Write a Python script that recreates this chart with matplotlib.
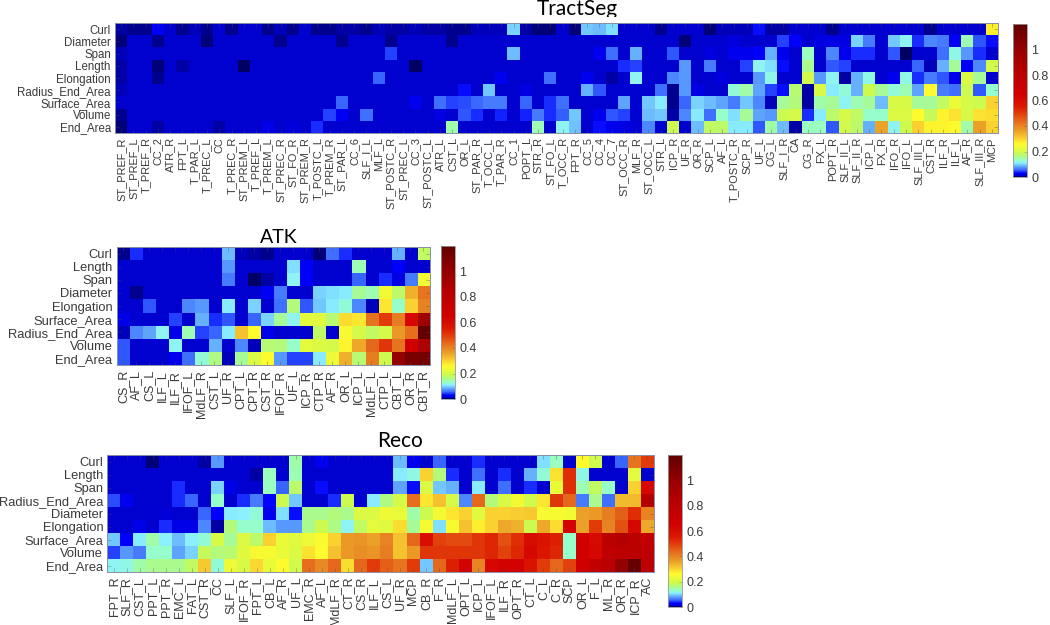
import numpy as np
import matplotlib
matplotlib.use('Agg')
import matplotlib.pyplot as plt
from matplotlib.colors import LinearSegmentedColormap
from matplotlib.transforms import Bbox

plt.rcParams['font.family'] = ['Liberation Sans', 'DejaVu Sans']

ts_tracts = ['ST_PREF_R', 'ST_PREF_L', 'T_PREF_R', 'CC_2', 'ATR_R', 'FPT_L', 'T_PAR_L', 'T_PREC_L', 'CC',
             'T_PREC_R', 'ST_PREM_L', 'T_PREF_L', 'T_PREM_L', 'ST_PREC_R', 'ST_FO_R', 'ST_PREM_R', 'T_POSTC_L',
             'T_PREM_R', 'ST_PAR_L', 'CC_6', 'SLF_I_L', 'MLF_L', 'ST_POSTC_R', 'ST_PREC_L', 'CC_3', 'ST_POSTC_L',
             'ATR_L', 'CST_L', 'OR_L', 'ST_PAR_R', 'T_OCC_L', 'T_PAR_R', 'CC_1', 'POPT_L', 'STR_R', 'ST_FO_L',
             'T_OCC_R', 'FPT_R', 'CC_5', 'CC_4', 'CC_7', 'ST_OCC_R', 'MLF_R', 'ST_OCC_L', 'STR_L', 'ICP_R', 'UF_R',
             'OR_R', 'SCP_L', 'AF_L', 'T_POSTC_R', 'SCP_R', 'UF_L', 'CG_L', 'SLF_I_R', 'CA', 'CG_R', 'FX_L',
             'POPT_R', 'SLF_II_L', 'SLF_II_R', 'ICP_L', 'FX_R', 'IFO_R', 'IFO_L', 'SLF_III_L', 'CST_R', 'ILF_R',
             'ILF_L', 'AF_R', 'SLF_III_R', 'MCP']
ts_features = ['Curl', 'Diameter', 'Span', 'Length', 'Elongation', 'Radius_End_Area', 'Surface_Area', 'Volume', 'End_Area']

ts_curl = [8, 5, 5, 28, 12, 5, 10, 5, 12, 5, 12, 12, 6, 10, 5, 12, 7, 7, 9, 9, 5, 10, 9, 9, 10, 9, 8, 5, 6, 10, 10, 10,
           100, 9, 4, 4, 12, 4, 95, 90, 105, 12, 12, 12, 5, 12, 12, 12, 4, 10, 10, 10, 35, 8, 8, 12, 12, 12, 5, 12,
           12, 12, 12, 12, 12, 12, 5, 12, 12, 12, 12, 270]
ts_diameter = [3, 12, 12, 6, 12, 12, 12, 4, 12, 12, 12, 12, 12, 6, 12, 12, 12, 12, 6, 12, 12, 12, 5, 12, 12, 12, 12, 5,
               12, 12, 12, 12, 12, 12, 12, 12, 12, 12, 12, 12, 12, 12, 12, 12, 12, 12, 4, 12, 12, 12, 18, 14, 14, 12,
               45, 30, 12, 20, 20, 20, 100, 65, 12, 95, 115, 40, 70, 65, 28, 140, 50, 35]
ts_span = [10, 12, 12, 12, 12, 12, 12, 12, 12, 12, 12, 12, 12, 12, 12, 12, 12, 12, 12, 12, 12, 12, 45, 12, 12, 12, 12,
           12, 12, 12, 12, 12, 90, 12, 12, 12, 12, 12, 12, 25, 60, 12, 85, 12, 12, 50, 14, 14, 18, 12, 25, 25, 30, 85,
           25, 12, 135, 12, 70, 25, 40, 40, 12, 50, 0, 12, 12, 60, 120, 75, 40, 14]
ts_length = [8, 12, 12, 4, 12, 9, 12, 12, 12, 12, 0, 12, 12, 12, 12, 12, 12, 12, 12, 12, 12, 12, 12, 12, 2, 12, 12, 12,
             12, 12, 12, 12, 12, 12, 12, 12, 12, 12, 12, 12, 12, 40, 45, 12, 12, 12, 75, 12, 65, 12, 12, 45, 115, 105,
             35, 12, 155, 12, 50, 45, 12, 12, 12, 12, 12, 55, 10, 85, 150, 30, 70, 195]
ts_elongation = [9, 12, 12, 6, 12, 12, 12, 12, 12, 12, 12, 12, 12, 12, 12, 12, 12, 12, 12, 12, 12, 55, 12, 12, 12, 12,
                 12, 12, 12, 12, 12, 25, 12, 12, 12, 60, 12, 12, 25, 12, 8, 12, 115, 12, 12, 70, 75, 12, 12, 18, 12,
                 12, 75, 120, 12, 12, 195, 75, 115, 8, 85, 120, 12, 25, 120, 40, 65, 50, 25, 210, 150, 12]
ts_radius = [10, 12, 12, 12, 12, 12, 12, 12, 12, 12, 12, 12, 12, 12, 12, 12, 12, 12, 12, 12, 12, 12, 12, 12, 12, 12, 12,
             12, 35, 12, 95, 12, 12, 20, 12, 12, 12, 12, 85, 50, 12, 12, 12, 12, 60, 6, 75, 20, 12, 12, 125, 145, 80,
             45, 35, 170, 8, 205, 110, 125, 85, 190, 150, 125, 140, 80, 260, 65, 60, 190, 50, 130]
ts_surface = [12, 12, 12, 12, 12, 12, 12, 12, 12, 12, 12, 12, 12, 12, 12, 12, 12, 12, 55, 12, 12, 12, 12, 12, 25, 12,
              60, 45, 48, 58, 65, 65, 12, 55, 12, 40, 60, 12, 12, 12, 12, 80, 12, 95, 110, 6, 55, 100, 90, 80, 65, 95,
              70, 10, 150, 165, 8, 145, 150, 115, 140, 150, 90, 205, 205, 150, 150, 180, 230, 200, 190, 300]
ts_volume = [7, 12, 12, 12, 12, 12, 12, 12, 12, 12, 12, 12, 12, 12, 12, 12, 12, 45, 28, 12, 60, 12, 12, 12, 12, 12, 20,
             12, 50, 42, 12, 38, 12, 38, 65, 42, 52, 95, 12, 25, 50, 45, 12, 90, 95, 8, 70, 110, 60, 130, 105, 150,
             80, 75, 190, 200, 40, 110, 175, 200, 180, 130, 130, 210, 210, 260, 185, 265, 285, 205, 285, 290]
ts_end = [4, 12, 12, 8, 12, 12, 12, 12, 8, 12, 12, 12, 22, 12, 18, 12, 40, 12, 12, 12, 12, 12, 12, 12, 12, 12, 12, 145,
          12, 12, 12, 12, 12, 12, 140, 12, 115, 92, 12, 35, 25, 20, 16, 70, 12, 190, 12, 90, 180, 175, 110, 110, 50,
          145, 90, 8, 135, 135, 50, 195, 175, 85, 355, 115, 190, 300, 265, 265, 260, 145, 360, 300]

atk_tracts = ['CS_R', 'AF_L', 'CS_L', 'ILF_L', 'ILF_R', 'IFOF_L', 'MdLF_R', 'CST_L', 'UF_R', 'CPT_L', 'CPT_R', 'CST_R',
              'IFOF_R', 'UF_L', 'ICP_R', 'CTP_R', 'AF_R', 'OR_L', 'ICP_L', 'MdLF_L', 'CTP_L', 'CBT_L', 'OR_R', 'CBT_R']
atk_features = ['Curl', 'Length', 'Span', 'Diameter', 'Elongation', 'Surface_Area', 'Radius_End_Area', 'Volume', 'End_Area']

atk_curl = [5, 40, 12, 12, 12, 12, 12, 12, 90, 10, 8, 6, 12, 12, 12, 4, 60, 40, 12, 12, 12, 85, 12, 180]
atk_length = [12, 12, 12, 12, 12, 12, 12, 12, 75, 12, 12, 12, 12, 105, 28, 12, 12, 12, 140, 12, 12, 30, 14, 12]
atk_span = [12, 12, 12, 12, 12, 12, 12, 12, 65, 12, 2, 8, 14, 115, 30, 12, 12, 12, 55, 12, 40, 20, 65, 240]
atk_diameter = [12, 5, 12, 12, 12, 12, 12, 12, 12, 12, 12, 28, 65, 12, 12, 100, 105, 110, 150, 140, 240, 175, 340, 420]
atk_elongation = [12, 12, 50, 12, 12, 70, 75, 12, 110, 12, 100, 12, 60, 165, 50, 95, 110, 125, 70, 10, 280, 130, 300, 400]
atk_surface = [22, 12, 12, 12, 45, 12, 85, 40, 50, 12, 55, 100, 150, 115, 220, 215, 170, 290, 280, 420, 500, 410, 620, 950]
atk_radius = [10, 70, 80, 115, 22, 140, 45, 55, 110, 320, 260, 22, 14, 12, 12, 180, 12, 250, 200, 180, 200, 370, 430, 1180]
atk_volume = [50, 12, 12, 12, 115, 12, 12, 85, 12, 70, 10, 170, 165, 130, 220, 210, 200, 265, 350, 440, 510, 420, 650, 880]
atk_end = [50, 12, 12, 12, 25, 60, 125, 160, 10, 150, 210, 260, 75, 45, 45, 110, 230, 340, 170, 410, 190, 1000, 1100, 1120]

reco_tracts = ['FPT_R', 'SLF_R', 'CST_L', 'PPT_L', 'PPT_R', 'EMC_L', 'FAT_L', 'CST_R', 'CC', 'SLF_L', 'IFOF_R', 'FPT_L',
               'CB_L', 'AF_R', 'UF_L', 'EMC_R', 'AF_L', 'MdLF_R', 'CT_R', 'CS_R', 'ILF_L', 'CS_L', 'UF_R', 'MCP', 'CB_R',
               'F_R', 'MdLF_L', 'OPT_L', 'ICP_L', 'IFOF_L', 'ILF_R', 'OPT_R', 'CT_L', 'C_L', 'C_R', 'SCP', 'OR_L', 'F_L',
               'ML_R', 'OR_R', 'ICP_R', 'AC']
reco_features = ['Curl', 'Length', 'Span', 'Radius_End_Area', 'Diameter', 'Elongation', 'Surface_Area', 'Volume', 'End_Area']

reco_curl = [12, 12, 12, 4, 12, 12, 12, 9, 75, 12, 12, 12, 12, 12, 145, 12, 25, 12, 12, 12, 12, 12, 90, 25, 12, 55, 12,
             12, 40, 12, 12, 12, 12, 105, 135, 12, 260, 195, 12, 55, 420, 500]
reco_length = [12, 12, 12, 12, 12, 12, 12, 12, 12, 12, 12, 9, 135, 12, 140, 12, 12, 12, 12, 12, 12, 12, 110, 120, 300,
               165, 42, 12, 60, 12, 40, 12, 85, 125, 285, 520, 120, 12, 12, 12, 220, 12]
reco_span = [12, 12, 12, 12, 12, 40, 12, 12, 100, 22, 12, 12, 135, 55, 175, 12, 35, 12, 12, 12, 12, 12, 80, 35, 210, 95,
             85, 12, 110, 12, 60, 12, 42, 12, 225, 520, 140, 180, 130, 12, 300, 620]
reco_radius = [48, 25, 12, 12, 12, 42, 55, 12, 130, 12, 42, 65, 32, 190, 95, 12, 14, 42, 190, 12, 110, 160, 200, 430,
               280, 320, 200, 70, 440, 165, 205, 240, 195, 280, 510, 440, 65, 155, 60, 330, 330, 850]
reco_diameter = [12, 12, 12, 12, 16, 12, 12, 55, 30, 110, 112, 125, 25, 105, 35, 155, 155, 165, 155, 210, 210, 235, 225,
                 145, 190, 240, 280, 300, 215, 300, 300, 305, 310, 245, 250, 240, 360, 370, 410, 450, 520, 400]
reco_elongation = [12, 12, 22, 12, 40, 22, 22, 70, 8, 165, 130, 130, 90, 75, 75, 155, 190, 160, 115, 180, 218, 215, 290,
                   150, 250, 105, 250, 320, 270, 300, 350, 340, 190, 350, 290, 640, 360, 500, 400, 470, 620, 350]
reco_surface = [95, 30, 110, 145, 112, 90, 112, 125, 205, 150, 210, 175, 300, 225, 215, 235, 255, 300, 370, 375, 360,
                400, 320, 440, 590, 490, 480, 480, 510, 530, 470, 520, 600, 570, 540, 130, 650, 610, 800, 850, 800, 750]
reco_volume = [45, 75, 65, 130, 130, 80, 100, 185, 165, 170, 215, 250, 250, 225, 210, 285, 260, 320, 370, 385, 375, 410,
               320, 370, 510, 510, 510, 510, 510, 530, 490, 530, 620, 560, 530, 130, 650, 620, 780, 800, 800, 780]
reco_end = [115, 120, 145, 155, 155, 155, 180, 310, 125, 235, 205, 295, 225, 260, 195, 430, 390, 440, 290, 440, 500, 450,
            420, 500, 95, 440, 540, 640, 400, 620, 640, 640, 570, 500, 440, 490, 660, 750, 800, 1000, 1170, 780]

VMAX = 1.2
FIG_W, FIG_H = 1050, 625
TEXT_COLOR = '#3a3a3a'

# colour stops sampled from the colorbars
stops = [(0, (0, 0, 100)), (0.012, (0, 0, 210)), (0.03, (0, 0, 255)), (0.05, (50, 90, 255)), (0.07, (80, 140, 255)),
         (0.09, (110, 190, 255)), (0.11, (140, 240, 255)), (0.13, (150, 255, 200)), (0.16, (175, 250, 130)),
         (0.19, (205, 250, 80)), (0.22, (230, 250, 60)), (0.26, (255, 250, 45)), (0.30, (250, 210, 50)),
         (0.36, (235, 160, 40)), (0.43, (230, 110, 30)), (0.50, (225, 60, 10)), (0.55, (220, 25, 0)),
         (0.65, (210, 0, 0)), (0.85, (180, 0, 0)), (1.0, (150, 0, 0)), (1.2, (95, 0, 0))]
cmap = LinearSegmentedColormap.from_list('tract', [(v / VMAX, tuple(c / 255 for c in rgb)) for v, rgb in stops], N=512)


def add_axes_px(left, top, right, bottom):
    return plt.gcf().add_axes([left / FIG_W, 1 - bottom / FIG_H, (right - left) / FIG_W, (bottom - top) / FIG_H])


def draw_heatmap(rows, tracts, features, box, cbar_box, x_size, y_size, x_pad):
    ax = add_axes_px(*box)
    values = np.array(rows) / 1000
    im = ax.imshow(values, cmap=cmap, vmin=0, vmax=VMAX, aspect='auto', interpolation='nearest')
    ax.set_xticks(range(len(tracts)))
    ax.set_xticklabels(tracts, rotation=90, fontsize=x_size, color=TEXT_COLOR)
    ax.set_yticks(range(len(features)))
    ax.set_yticklabels(features, fontsize=y_size, color=TEXT_COLOR)
    ax.tick_params(axis='both', direction='in', length=3, width=0.5, color=(0.3, 0.3, 0.3, 0.5),
                   top=True, right=True)
    ax.tick_params(axis='x', pad=x_pad)
    ax.tick_params(axis='y', pad=3)
    for s in ax.spines.values():
        s.set_color('#8a8fa8')
        s.set_linewidth(0.7)

    cax = add_axes_px(*cbar_box)
    cbar = plt.gcf().colorbar(im, cax=cax)
    cbar.set_ticks([0, 0.2, 0.4, 0.6, 0.8, 1])
    cbar.set_ticklabels(['0', '0.2', '0.4', '0.6', '0.8', '1'])
    cbar.ax.tick_params(direction='in', length=2, width=0.4, color=(0.3, 0.3, 0.3, 0.5), labelsize=9,
                        labelcolor=TEXT_COLOR, pad=3)
    cbar.outline.set_edgecolor('#999999')
    cbar.outline.set_linewidth(0.6)


fig = plt.figure(figsize=(10.5, 6.25), dpi=100)

draw_heatmap([ts_curl, ts_diameter, ts_span, ts_length, ts_elongation, ts_radius, ts_surface, ts_volume, ts_end],
             ts_tracts, ts_features, (115, 23, 998, 133), (1013, 24, 1027, 177), 7.9, 8.3, 3)
draw_heatmap([atk_curl, atk_length, atk_span, atk_diameter, atk_elongation, atk_surface, atk_radius, atk_volume, atk_end],
             atk_tracts, atk_features, (116.5, 247, 430, 365), (441, 246, 455, 399), 9, 9.3, 3.5)
draw_heatmap([reco_curl, reco_length, reco_span, reco_radius, reco_diameter, reco_elongation, reco_surface, reco_volume, reco_end],
             reco_tracts, reco_features, (107.3, 455, 654, 572), (668, 455, 682, 607), 9, 9.3, 3.5)

# the top title is cut off just under its baseline in the original
title_ts = fig.text(577 / FIG_W, 1 - 15 / FIG_H, 'TractSeg', family='Lato', fontsize=15, ha='center', va='baseline', color='black')
title_ts.set_clip_box(Bbox([[0, FIG_H - 17], [FIG_W, FIG_H]]))
title_ts.set_clip_on(True)
fig.text(279 / FIG_W, 1 - 243 / FIG_H, 'ATK', family='Lato', fontsize=14, ha='center', va='baseline', color='black')
fig.text(400 / FIG_W, 1 - 447 / FIG_H, 'Reco', family='Lato', fontsize=15, ha='center', va='baseline', color='black')

fig.savefig('out.png', dpi=100)
